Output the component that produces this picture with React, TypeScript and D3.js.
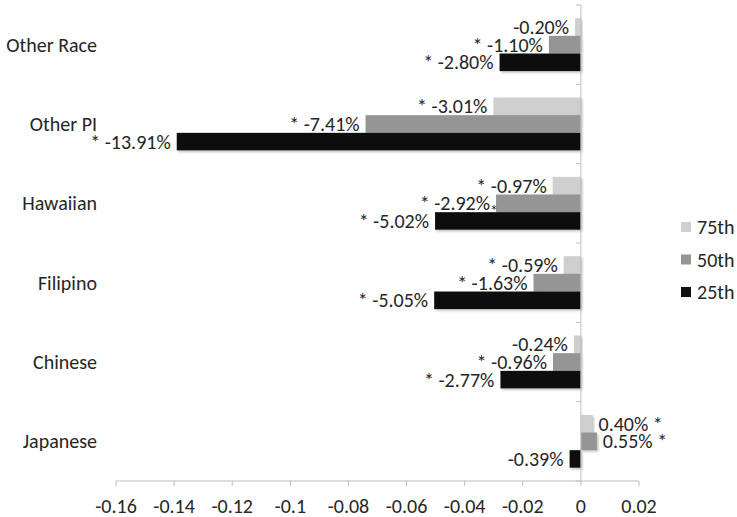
import React from "react";
import * as d3 from "d3";

const categories = ["Other Race", "Other PI", "Hawaiian", "Filipino", "Chinese", "Japanese"];
const seriesNames = ["75th", "50th", "25th"];
const values75 = [-0.0020, -0.0301, -0.0097, -0.0059, -0.0024, 0.0040];
const values50 = [-0.0110, -0.0741, -0.0292, -0.0163, -0.0096, 0.0055];
const values25 = [-0.0280, -0.1391, -0.0502, -0.0505, -0.0277, -0.0039];
const sig75 = [false, true, true, true, false, true];
const sig50 = [true, true, true, true, true, true];
const sig25 = [true, true, true, true, true, false];
// a stray asterisk in the source sits at the end of the Hawaiian 50th bar
const strayNotes = [{ category: "Hawaiian", series: "50th", text: "*" }];
const xTicks = [-0.16, -0.14, -0.12, -0.1, -0.08, -0.06, -0.04, -0.02, 0, 0.02];
const colors = ["#cfcfcf", "#959595", "#111111"];

const W = 737;
const H = 517;
const FONT = "Calibri, Carlito, Lato, sans-serif";
const FS = 20;
const TXT = "#262626";

const hy = (s: string) => s.replace(/\u2212/g, "-");

export default function App() {
  const x = d3.scaleLinear().domain([-0.16, 0.02]).range([116, 639]);
  const y = d3.scaleBand<string>().domain(categories).range([5, 481]).padding(0);
  const inner = d3
    .scaleBand<string>()
    .domain(seriesNames)
    .range([0, y.bandwidth()])
    .paddingInner(0)
    .paddingOuter(0.75);

  const allValues = [values75, values50, values25];
  const allSig = [sig75, sig50, sig25];
  const axisColor = "#bdbdbd";

  const bars: any[] = [];
  categories.forEach((c, ci) => {
    seriesNames.forEach((s, si) => {
      const v = allValues[si][ci];
      bars.push({ c, s, si, v, sig: allSig[si][ci] });
    });
  });

  return (
    <svg
      width={W}
      height={H}
      style={{ position: "absolute", left: 0, top: 0, display: "block", background: "#fff" }}
      fontFamily={FONT}
    >
      <defs>
        <filter id="sh" x="-20%" y="-40%" width="140%" height="180%">
          <feDropShadow dx="1.5" dy="1.5" stdDeviation="1.2" floodColor="#8a8a8a" floodOpacity="0.55" />
        </filter>
      </defs>

      {/* bars */}
      {bars.map((b, i) => {
        const y0 = (y(b.c) as number) + (inner(b.s) as number);
        const x0 = Math.min(x(0), x(b.v));
        const w = Math.abs(x(b.v) - x(0));
        return (
          <rect
            key={"b" + i}
            x={x0}
            y={y0}
            width={w}
            height={inner.bandwidth()}
            fill={colors[b.si]}
            filter="url(#sh)"
          />
        );
      })}

      {/* axes */}
      <line x1={x(0)} x2={x(0)} y1={y.range()[0]} y2={y.range()[1]} stroke={axisColor} strokeWidth={1} />
      {d3.range(categories.length + 1).map((i) => {
        const yy = y.range()[0] + i * y.bandwidth();
        return <line key={"yt" + i} x1={x(0) - 5} x2={x(0)} y1={yy} y2={yy} stroke={axisColor} />;
      })}
      <line x1={x(-0.16)} x2={x(0.02)} y1={481} y2={481} stroke={axisColor} />
      {xTicks.map((t, i) => (
        <g key={"xt" + i}>
          <line x1={x(t)} x2={x(t)} y1={481} y2={486} stroke={axisColor} />
          <text x={x(t)} y={506} textAnchor="middle" dominantBaseline="central" fontSize={FS} fill={TXT}>
            {hy(d3.format("")(t))}
          </text>
        </g>
      ))}

      {/* category labels */}
      {categories.map((c) => (
        <text
          key={"c" + c}
          x={97}
          y={(y(c) as number) + y.bandwidth() / 2}
          textAnchor="end"
          dominantBaseline="central"
          fontSize={FS}
          fill={TXT}
        >
          {c}
        </text>
      ))}

      {/* data labels */}
      {bars.map((b, i) => {
        const yc = (y(b.c) as number) + (inner(b.s) as number) + inner.bandwidth() / 2;
        const pct = hy(d3.format(".2%")(b.v));
        if (b.v < 0) {
          return (
            <text
              key={"l" + i}
              x={x(b.v) - 6}
              y={yc}
              textAnchor="end"
              dominantBaseline="central"
              fontSize={FS}
              fill={TXT}
            >
              {b.sig ? "* " + pct : pct}
            </text>
          );
        }
        return (
          <text
            key={"l" + i}
            x={x(b.v) + 6}
            y={yc}
            textAnchor="start"
            dominantBaseline="central"
            fontSize={FS}
            fill={TXT}
          >
            {b.sig ? pct + " *" : pct}
          </text>
        );
      })}

      {/* stray notes */}
      {strayNotes.map((n, i) => {
        const ci = categories.indexOf(n.category);
        const si = seriesNames.indexOf(n.series);
        const v = allValues[si][ci];
        const yb = (y(n.category) as number) + (inner(n.series) as number) + inner.bandwidth();
        return (
          <text key={"n" + i} x={x(v) - 2} y={yb - 2} textAnchor="middle" dominantBaseline="central" fontSize={16} fill={TXT}>
            {n.text}
          </text>
        );
      })}

      {/* legend */}
      {seriesNames.map((s, i) => (
        <g key={"lg" + s} transform={`translate(681, ${227 + i * 32.5})`}>
          <rect x={0} y={-5} width={10} height={10} fill={colors[i]} />
          <text x={16} y={0} dominantBaseline="central" fontSize={FS} fill={TXT}>
            {s}
          </text>
        </g>
      ))}
    </svg>
  );
}
